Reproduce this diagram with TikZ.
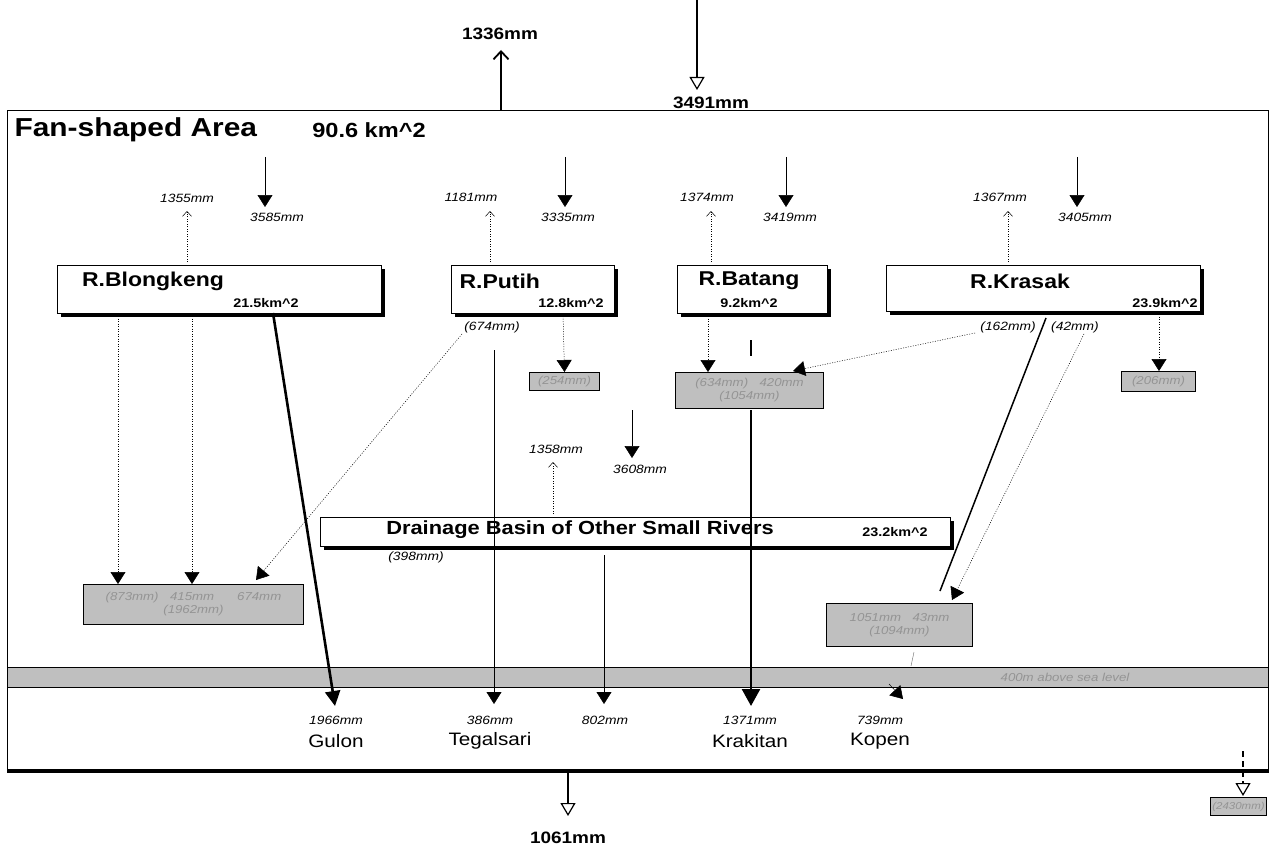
\documentclass[tikz,border=0pt]{standalone}
\usepackage{fontspec}
\setmainfont{Liberation Sans}[FakeStretch=1.15]
\usetikzlibrary{arrows.meta,shadows}
\begin{document}
\begin{tikzpicture}[x=1pt,y=-1pt,
  rbox/.style={draw,line width=0.6pt,fill=white,anchor=north west,inner sep=0pt,
    drop shadow={shadow xshift=4pt,shadow yshift=-4pt,fill=black,opacity=1}},
  hbox/.style={draw,line width=1pt,fill=gray!50,anchor=north west,inner sep=0pt,align=center},
  htxt/.style={font=\fontsize{11.5}{13}\selectfont\itshape,text=black!42},
  rname/.style={font=\fontsize{20}{22}\selectfont\bfseries},
  area/.style={font=\fontsize{12.5}{14}\selectfont\bfseries},
  lbl/.style={font=\fontsize{12}{14}\selectfont\itshape},
  big/.style={font=\fontsize{16.5}{18}\selectfont\bfseries},
  stn/.style={font=\fontsize{18}{20}\selectfont},
  dotln/.style={line width=0.5pt,dash pattern=on 1pt off 1.5pt},
  uparr/.style={dotln,-{Straight Barb[length=5pt,width=9pt,line width=0.5pt]}},
  tri/.style={-{Triangle[length=12pt,width=15pt]}},
  bigtri/.style={-{Triangle[length=17pt,width=18pt]}},
  opentri/.style={-{Triangle[open,length=13pt,width=15pt,line width=1.2pt]}},
]
\useasboundingbox (0,0) rectangle (1272,856);

% ---------- frame and strip ----------
\node[draw,line width=0.6pt,anchor=north west,minimum width=1261pt,minimum height=660pt,inner sep=0pt] (frame) at (7,110) {};
\draw[line width=4pt] (frame.south west) -- (frame.south east);
\node[hbox,minimum width=1261pt,minimum height=20pt] (strip) at (7,667) {};
\node[htxt] (stript) at (1065,677) {400m above sea level};

% ---------- title ----------
\node[font=\fontsize{26}{28}\selectfont\bfseries,anchor=west] (title) at (11,130) {Fan-shaped Area};
\node[font=\fontsize{20.5}{24}\selectfont\bfseries] (titlea) at (369,130) {90.6 km\textasciicircum2};

% ---------- top arrows ----------
\node[big] (t1336) at (500,34) {1336mm};
\coordinate (t1336s) at (501,110);
\coordinate (t1336e) at (501,50);
\draw[line width=2.3pt,-{Straight Barb[length=8pt,width=15pt,line width=1.8pt]}] (t1336s) -- (t1336e);
\node[big] (t3491) at (711,103) {3491mm};
\coordinate (t3491s) at (697,0);
\coordinate (t3491e) at (697,90);
\draw[line width=2.3pt,opentri] (t3491s) -- (t3491e);

% ---------- river boxes ----------
\node[rbox,minimum width=324pt,minimum height=48pt] (blk) at (57,265) {};
\node[rname] (blkn) at (153,281) {R.Blongkeng};
\node[area] (blka) at (266,303) {21.5km\textasciicircum2};

\node[rbox,minimum width=163pt,minimum height=48pt] (put) at (451,265) {};
\node[rname,anchor=west] (putn) at (456,281) {R.Putih};
\node[area] (puta) at (571,303) {12.8km\textasciicircum2};

\node[rbox,minimum width=150pt,minimum height=48pt] (bat) at (677,265) {};
\node[rname] (batn) at (749,281) {R.Batang};
\node[area] (bata) at (749,303) {9.2km\textasciicircum2};

\node[rbox,minimum width=314pt,minimum height=46pt] (kra) at (886,265) {};
\node[rname] (kran) at (1020,281) {R.Krasak};
\node[area] (kraa) at (1165,303) {23.9km\textasciicircum2};

\node[rbox,minimum width=630pt,minimum height=29pt] (drn) at (320,517) {};
\node[rname,font=\fontsize{19}{21}\selectfont\bfseries] (drnn) at (580,530) {Drainage Basin of Other Small Rivers};
\node[area] (drna) at (895,532) {23.2km\textasciicircum2};
\node[lbl] (d398) at (416,557) {(398mm)};

% ---------- rain / evaporation arrows ----------
% Blongkeng
\node[lbl] (u1l) at (187,198) {1355mm};
\coordinate (u1s) at (187,262);
\coordinate (u1e) at (187,211);
\draw[uparr] (u1s) -- (u1e);
\node[lbl] (d1l) at (277,217) {3585mm};
\coordinate (d1s) at (265,157);
\coordinate (d1e) at (265,207);
\draw[line width=0.5pt,tri] (d1s) -- (d1e);
% Putih
\node[lbl] (u2l) at (471,197) {1181mm};
\coordinate (u2s) at (490,262);
\coordinate (u2e) at (490,211);
\draw[uparr] (u2s) -- (u2e);
\node[lbl] (d2l) at (568,217) {3335mm};
\coordinate (d2s) at (565,157);
\coordinate (d2e) at (565,207);
\draw[line width=0.5pt,tri] (d2s) -- (d2e);
% Batang
\node[lbl] (u3l) at (707,197) {1374mm};
\coordinate (u3s) at (711,262);
\coordinate (u3e) at (711,211);
\draw[uparr] (u3s) -- (u3e);
\node[lbl] (d3l) at (790,217) {3419mm};
\coordinate (d3s) at (786,157);
\coordinate (d3e) at (786,207);
\draw[line width=0.5pt,tri] (d3s) -- (d3e);
% Krasak
\node[lbl] (u4l) at (1000,197) {1367mm};
\coordinate (u4s) at (1008,262);
\coordinate (u4e) at (1008,211);
\draw[uparr] (u4s) -- (u4e);
\node[lbl] (d4l) at (1085,217) {3405mm};
\coordinate (d4s) at (1077,157);
\coordinate (d4e) at (1077,207);
\draw[line width=0.5pt,tri] (d4s) -- (d4e);
% Drainage basin
\node[lbl] (u5l) at (556,449) {1358mm};
\coordinate (u5s) at (553,514);
\coordinate (u5e) at (553,462);
\draw[uparr] (u5s) -- (u5e);
\node[lbl] (d5l) at (640,469) {3608mm};
\coordinate (d5s) at (632,410);
\coordinate (d5e) at (632,458);
\draw[line width=0.5pt,tri] (d5s) -- (d5e);

% ---------- hatched boxes ----------
\node[hbox,htxt,minimum width=220pt,minimum height=40pt] (hb1) at (83,584) {(873mm)\quad 415mm\qquad 674mm\\(1962mm)};
\node[hbox,htxt,minimum width=70pt,minimum height=18pt] (hp) at (529,372) {(254mm)};
\node[hbox,htxt,minimum width=148pt,minimum height=36pt] (hbt) at (675,372) {(634mm)\quad 420mm\\(1054mm)};
\node[hbox,htxt,minimum width=74pt,minimum height=20pt] (hk) at (1121,371) {(206mm)};
\node[hbox,htxt,minimum width=146pt,minimum height=43pt] (hkr) at (826,603) {1051mm\quad 43mm\\(1094mm)};
\node[hbox,htxt,minimum width=56pt,minimum height=18pt,font=\fontsize{10}{12}\selectfont\itshape] (hbr) at (1210,797) {(2430mm)};

% ---------- Blongkeng outflows ----------
\draw[dotln,tri] (118,0 |- blk.south) -- (118,0 |- hb1.north);
\draw[dotln,tri] (192,0 |- blk.south) -- (192,0 |- hb1.north);
\coordinate (gs) at (273,313);
\coordinate (ge) at (335,706);
\draw[line width=2.6pt,-{Triangle[length=15pt,width=15pt]}] (gs) -- (ge);

% ---------- Putih ----------
\node[lbl] (p674) at (492,327) {(674mm)};
\coordinate (p674s) at (462,334);
\coordinate (p674e) at (256,580);
\draw[dotln,tri] (p674s) -- (p674e);
\draw[dotln,tri] (563,0 |- put.south) -- (hp.north);
\coordinate (tgs) at (494,350);
\coordinate (tge) at (494,704);
\draw[line width=0.45pt,tri] (tgs) -- (tge);

% ---------- Batang ----------
\draw[dotln,tri] (708,0 |- bat.south) -- (708,0 |- hbt.north);
\coordinate (bk1) at (751,340);
\coordinate (bk2) at (751,356);
\draw[line width=2.6pt] (bk1) -- (bk2);
\coordinate (bks) at (751,410);
\coordinate (bke) at (751,706);
\draw[line width=2.6pt,bigtri] (bks) -- (bke);

% ---------- Krasak ----------
\node[lbl] (k162) at (1008,327) {(162mm)};
\node[lbl] (k42) at (1075,327) {(42mm)};
\coordinate (k162s) at (975,333);
\coordinate (k162e) at (793,371);
\draw[dotln,tri] (k162s) -- (k162e);
\coordinate (kls) at (1046,318);
\coordinate (kle) at (940,591);
\draw[line width=1.5pt] (kls) -- (kle);
\coordinate (k42s) at (1084,334);
\coordinate (k42e) at (952,600);
\draw[dotln,tri] (k42s) -- (k42e);
\draw[dotln,tri] (1159,0 |- kra.south) -- (1159,0 |- hk.north);

% ---------- small rivers ----------
\coordinate (sms) at (604,555);
\coordinate (sme) at (604,704);
\draw[line width=0.45pt,tri] (sms) -- (sme);

% ---------- Kopen ----------
\coordinate (kp1) at (914,652);
\coordinate (kp2) at (911,666);
\draw[line width=0.4pt,black!60] (kp1) -- (kp2);
\coordinate (kps) at (889,684);
\coordinate (kpe) at (903,699);
\draw[line width=0.5pt,tri] (kps) -- (kpe);

% ---------- stations ----------
\node[lbl] (s1) at (336,720) {1966mm};
\node[stn] (s1n) at (336,741) {Gulon};
\node[lbl] (s2) at (490,720) {386mm};
\node[stn] (s2n) at (490,741) {Tegalsari};
\node[lbl] (s3) at (605,720) {802mm};
\node[lbl] (s4) at (750,720) {1371mm};
\node[stn] (s4n) at (750,741) {Krakitan};
\node[lbl] (s5) at (880,720) {739mm};
\node[stn] (s5n) at (880,741) {Kopen};

% ---------- bottom outflows ----------
\coordinate (bos) at (568,772);
\coordinate (boe) at (568,816);
\draw[line width=2.3pt,opentri] (bos) -- (boe);
\node[big] (b1061) at (568,838) {1061mm};
\coordinate (brs) at (1243,751);
\coordinate (bre) at (1243,796);
\draw[line width=2.3pt,dash pattern=on 6pt off 4pt,opentri] (brs) -- (bre);
\end{tikzpicture}
\end{document}
